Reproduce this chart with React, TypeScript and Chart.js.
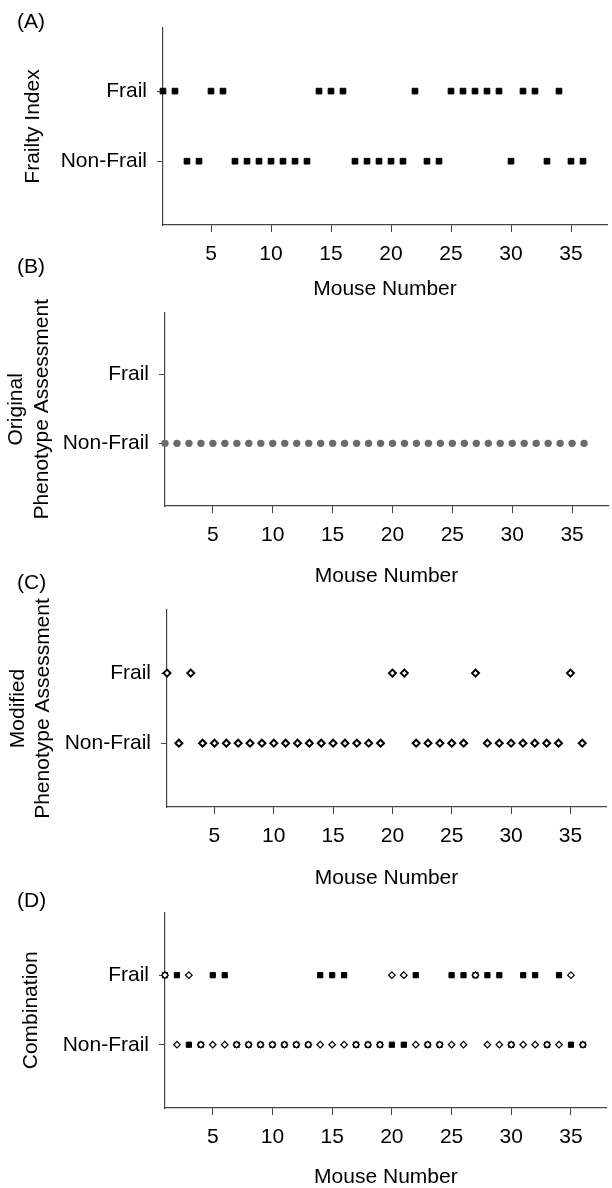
import React, { useEffect, useRef } from "react";
import { Chart, registerables } from "chart.js";

Chart.register(...registerables);

// ---------- data ----------
const mouseNumbers = [
  1, 2, 3, 4, 5, 6, 7, 8, 9, 10, 11, 12, 13, 14, 15, 16, 17, 18,
  19, 20, 21, 22, 23, 24, 25, 26, 27, 28, 29, 30, 31, 32, 33, 34, 35, 36,
];
// 1 = Frail, 0 = Non-Frail
const frailtyIndex = [
  1, 1, 0, 0, 1, 1, 0, 0, 0, 0, 0, 0, 0, 1, 1, 1, 0, 0,
  0, 0, 0, 1, 0, 0, 1, 1, 1, 1, 1, 0, 1, 1, 0, 1, 0, 0,
];
const originalPhenotype = [
  0, 0, 0, 0, 0, 0, 0, 0, 0, 0, 0, 0, 0, 0, 0, 0, 0, 0,
  0, 0, 0, 0, 0, 0, 0, 0, 0, 0, 0, 0, 0, 0, 0, 0, 0, 0,
];
const modifiedPhenotype = [
  1, 0, 1, 0, 0, 0, 0, 0, 0, 0, 0, 0, 0, 0, 0, 0, 0, 0,
  0, 1, 1, 0, 0, 0, 0, 0, 1, 0, 0, 0, 0, 0, 0, 0, 1, 0,
];
const yCategoryLabels = ["Non-Frail", "Frail"];
const yTickValues = [0, 1];
const xTickValues = [5, 10, 15, 20, 25, 30, 35];
const xAxisTitle = "Mouse Number";
const panelLetters = ["(A)", "(B)", "(C)", "(D)"];
const yAxisTitles = [
  ["Frailty Index"],
  ["Original", "Phenotype Assessment"],
  ["Modified", "Phenotype Assessment"],
  ["Combination"],
];

// ---------- styling / layout ----------
const FONT_FAMILY = '"Liberation Sans", Arial, Helvetica, sans-serif';
const FONT_SIZE = 21;
const AXIS_COLOR = "#444444";

type Layout = {
  top: number;
  height: number;
  areaTop: number;
  areaBottom: number;
  areaLeft: number;
  padRight: number;
  yTitlePad: number;
  xTitlePad: number;
  letterTop: number;
};

const layouts: Layout[] = [
  { top: 0, height: 305, areaTop: 28, areaBottom: 225, areaLeft: 163, padRight: 3, yTitlePad: 20.4, xTitlePad: 3.4, letterTop: 10 },
  { top: 290, height: 305, areaTop: 309, areaBottom: 506, areaLeft: 165, padRight: 1, yTitlePad: 4.1, xTitlePad: 6.4, letterTop: 255 },
  { top: 585, height: 310, areaTop: 610, areaBottom: 807, areaLeft: 167, padRight: 0, yTitlePad: 5.7, xTitlePad: 4.4, letterTop: 571 },
  { top: 890, height: 300, areaTop: 912, areaBottom: 1108, areaLeft: 165, padRight: 1, yTitlePad: 19.1, xTitlePad: 0.4, letterTop: 889 },
];

const toPoints = (series: number[]) =>
  mouseNumbers.map((m, i) => ({ x: m, y: series[i] }));

const squareStyle = (r: number) => ({
  pointStyle: "rect",
  pointRadius: r,
  backgroundColor: "#000000",
  borderColor: "#000000",
  borderWidth: 1,
});
const diamondStyle = (r: number, bw: number) => ({
  pointStyle: "rectRot",
  pointRadius: r,
  backgroundColor: "#ffffff",
  borderColor: "#000000",
  borderWidth: bw,
});

function buildDatasets(panel: number): any[] {
  const common = { showLine: false, clip: false as any };
  if (panel === 0) {
    return [{ ...common, label: "Frailty Index", data: toPoints(frailtyIndex), ...squareStyle(4) }];
  }
  if (panel === 1) {
    return [{
      ...common,
      label: "Original Phenotype",
      data: toPoints(originalPhenotype),
      pointStyle: "circle",
      pointRadius: 3.7,
      backgroundColor: "#6b6b6b",
      borderColor: "#6b6b6b",
      borderWidth: 0,
    }];
  }
  if (panel === 2) {
    return [{ ...common, label: "Modified Phenotype", data: toPoints(modifiedPhenotype), ...diamondStyle(3.5, 2) }];
  }
  return [
    { ...common, label: "Modified Phenotype", data: toPoints(modifiedPhenotype), ...diamondStyle(3.3, 1.2) },
    { ...common, label: "Frailty Index", data: toPoints(frailtyIndex), ...squareStyle(3.7) },
  ];
}

function Panel({ index }: { index: number }) {
  const ref = useRef<HTMLCanvasElement | null>(null);
  const L = layouts[index];
  useEffect(() => {
    if (!ref.current) return;
    const font = { family: FONT_FAMILY, size: FONT_SIZE };
    const chart = new Chart(ref.current, {
      type: "scatter",
      data: { datasets: buildDatasets(index) },
      options: {
        responsive: false,
        maintainAspectRatio: false,
        animation: false,
        events: [],
        layout: { padding: { top: L.areaTop - L.top, right: L.padRight, left: 0, bottom: 0 } },
        plugins: { legend: { display: false }, tooltip: { enabled: false }, title: { display: false } },
        scales: {
          x: {
            type: "linear",
            position: "bottom",
            min: 1,
            max: 38,
            afterFit: (s: any) => {
              s.height = L.height - (L.areaBottom - L.top);
            },
            afterBuildTicks: (s: any) => {
              s.ticks = xTickValues.map((v) => ({ value: v }));
            },
            grid: { display: true, drawOnChartArea: false, drawTicks: true, tickLength: 7, color: AXIS_COLOR, lineWidth: 1 },
            border: { display: true, color: AXIS_COLOR, width: 1.2 },
            ticks: { font, color: "#000000", padding: 10, maxRotation: 0, autoSkip: false },
            title: { display: true, text: xAxisTitle, font, color: "#000000", padding: { top: 0, bottom: L.xTitlePad } },
          },
          y: {
            type: "linear",
            position: "left",
            min: -0.91,
            max: 1.9,
            afterFit: (s: any) => {
              s.width = L.areaLeft;
            },
            afterBuildTicks: (s: any) => {
              s.ticks = yTickValues.map((v) => ({ value: v }));
            },
            grid: { display: true, drawOnChartArea: false, drawTicks: true, tickLength: 6, color: AXIS_COLOR, lineWidth: 1 },
            border: { display: true, color: AXIS_COLOR, width: 1.2 },
            ticks: {
              font,
              color: "#000000",
              padding: 10,
              autoSkip: false,
              callback: (v: any) => yCategoryLabels[Number(v)] ?? "",
            },
            title: {
              display: true,
              text: yAxisTitles[index],
              font,
              color: "#000000",
              padding: { top: L.yTitlePad, bottom: 0 },
            },
          },
        },
      } as any,
    });
    return () => chart.destroy();
  }, [index]);

  return (
    <>
      <canvas
        ref={ref}
        width={612}
        height={L.height}
        style={{ position: "absolute", left: 0, top: L.top, width: 612, height: L.height, display: "block" }}
      />
      <div
        style={{
          position: "absolute",
          left: 17,
          top: L.letterTop,
          fontFamily: FONT_FAMILY,
          fontSize: FONT_SIZE,
          lineHeight: `${FONT_SIZE}px`,
          color: "#000",
          whiteSpace: "nowrap",
        }}
      >
        {panelLetters[index]}
      </div>
    </>
  );
}

export default function App() {
  return (
    <div
      style={{
        position: "absolute",
        left: 0,
        top: 0,
        width: 612,
        height: 1188,
        overflow: "hidden",
        background: "#ffffff",
      }}
    >
      {[0, 1, 2, 3].map((i) => (
        <Panel key={i} index={i} />
      ))}
    </div>
  );
}
